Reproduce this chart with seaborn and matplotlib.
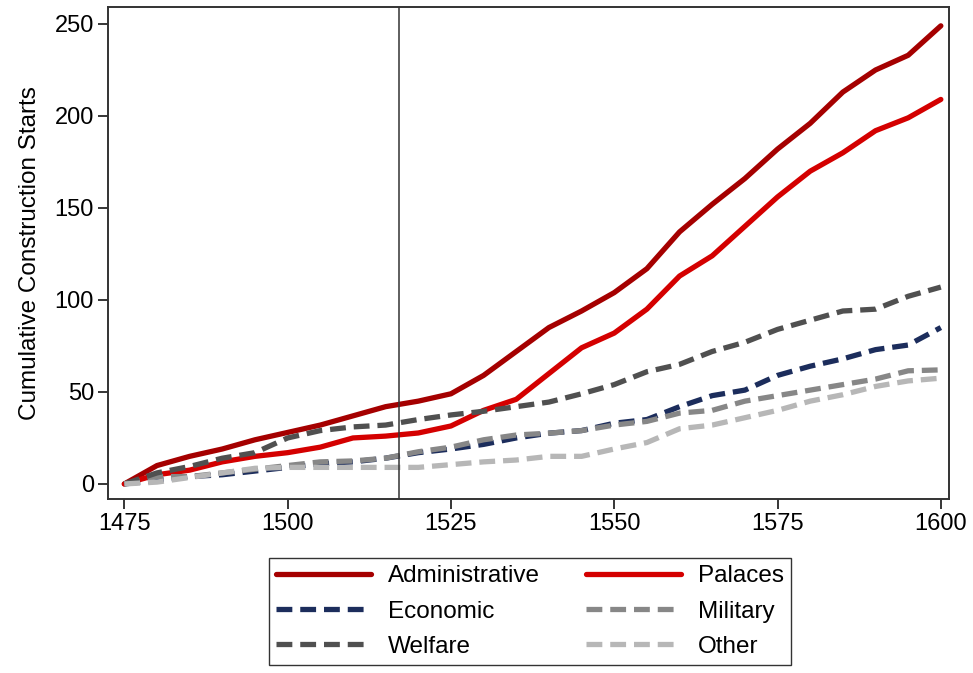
import pandas as pd
import numpy as np
import matplotlib
matplotlib.use("Agg")
import matplotlib.pyplot as plt
import seaborn as sns

# ---- data (5-year steps) ----
years = list(range(1475, 1601, 5))

administrative = [0, 10, 15, 19, 24, 28, 32, 37, 42, 45, 49, 59, 72, 85, 94,
                  104, 117, 137, 152, 166, 182, 196, 213, 225, 233, 249]
palaces = [0, 5, 7.5, 12, 15, 17, 20, 25, 26, 27.7, 31.5, 40, 46, 60, 74,
           82, 95, 113, 124, 140, 156, 170, 180, 192, 199, 209]
economic = [0, 2, 4, 5, 7, 9, 11, 12, 14, 17, 19, 21.5, 25, 27.6, 29,
            33, 35, 42, 48, 51, 59, 64, 68, 73, 75.5, 85]
military = [0, 4, 4, 6, 8, 10, 12, 12.5, 14, 17.5, 20, 24, 26.6, 27.6, 29,
            32, 34, 38.5, 40, 45, 48, 51, 54, 57, 61.5, 62]
welfare = [0, 6, 9.5, 14, 17, 25, 29, 31, 32, 35, 37.5, 39.5, 42, 44.5, 49,
           54, 61, 65, 72, 77, 84, 89, 94, 95, 102, 107]
other = [0, 1, 3.5, 6, 8.5, 9, 9, 9, 9, 9, 10.5, 12, 13, 15, 15,
         19, 22.5, 30, 32, 36, 40, 45, 48.5, 53, 56, 57.5]

series_names = ["Administrative", "Palaces", "Economic", "Military", "Welfare", "Other"]
series_vals = [administrative, palaces, economic, military, welfare, other]

colors = {"Administrative": "#A50000", "Palaces": "#D40000", "Economic": "#1C2D5C",
          "Military": "#878787", "Welfare": "#505050", "Other": "#B7B7B7"}
dashed = {"Administrative": False, "Palaces": False, "Economic": True,
          "Military": True, "Welfare": True, "Other": True}

start_line = 1517

# ---- plot ----
sns.set_style("white")
plt.rcParams["font.family"] = ["Liberation Sans", "DejaVu Sans"]
plt.rcParams["text.color"] = "black"
plt.rcParams["axes.labelcolor"] = "black"
plt.rcParams["xtick.color"] = "black"
plt.rcParams["ytick.color"] = "black"

fig = plt.figure(figsize=(9.73, 6.73), dpi=100)
ax = fig.add_axes([0.111, 0.2585, 0.864, 0.731])

for name, vals in zip(series_names, series_vals):
    ls = (0, (3, 1.5)) if dashed[name] else "-"
    sns.lineplot(x=years, y=vals, ax=ax, color=colors[name], linewidth=3.8,
                 linestyle=ls, label=name, legend=False)

ax.axvline(start_line, color="#333333", linewidth=1.1)

ax.set_xlim(1472.5, 1601.2)
ax.set_ylim(-8.2, 259.2)
ax.set_xticks([1475, 1500, 1525, 1550, 1575, 1600])
ax.set_yticks([0, 50, 100, 150, 200, 250])
ax.tick_params(axis="both", direction="out", length=7, width=1.1, labelsize=17,
               bottom=True, left=True, pad=3)
ax.set_ylabel("Cumulative Construction Starts", fontsize=17.5, labelpad=10)
ax.set_xlabel("")
for s in ax.spines.values():
    s.set_color("#333333")
    s.set_linewidth(1.4)

# row-wise legend order: matplotlib fills columns first
handles, labels = ax.get_legend_handles_labels()
order = [0, 2, 4, 1, 3, 5]
leg = fig.legend([handles[i] for i in order], [labels[i] for i in order],
                 ncol=2, loc="upper center",
                 bbox_to_anchor=(0.545, 0.171), fontsize=17.5, frameon=True,
                 fancybox=False, edgecolor="black", handlelength=3.9,
                 columnspacing=1.9, labelspacing=0.55, borderpad=0.3,
                 handletextpad=0.7, borderaxespad=0)
leg.get_frame().set_linewidth(1.0)

fig.savefig("out.png", dpi=100)
